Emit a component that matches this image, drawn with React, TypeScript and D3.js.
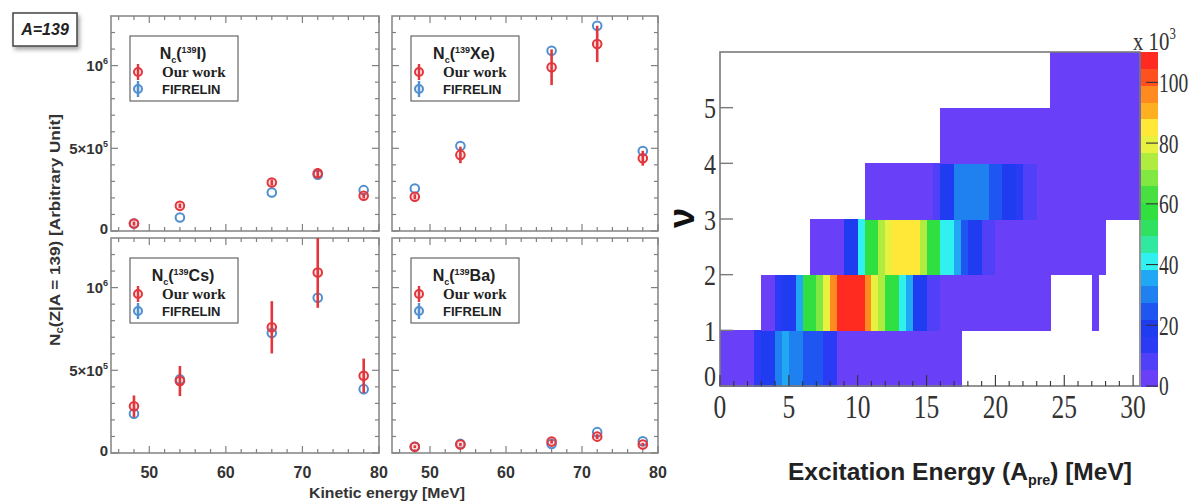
import React from "react";
import * as d3 from "d3";

// kinetic energies of the fragments [MeV]
const KE = [48, 54, 66, 72, 78];

// N_c(139 I)
const I_OUR = [45e3, 152e3, 293e3, 349e3, 213e3];
const I_OUR_ERR = [12e3, 14e3, 18e3, 32e3, 16e3];
const I_FIF = [45e3, 82e3, 233e3, 340e3, 247e3];

// N_c(139 Xe)
const XE_OUR = [207e3, 460e3, 990e3, 1131e3, 440e3];
const XE_OUR_ERR = [15e3, 50e3, 108e3, 110e3, 45e3];
const XE_FIF = [257e3, 514e3, 1090e3, 1241e3, 484e3];

// N_c(139 Cs)
const CS_OUR = [282e3, 435e3, 760e3, 1091e3, 467e3];
const CS_OUR_ERR = [66e3, 91e3, 158e3, 213e3, 104e3];
const CS_FIF = [238e3, 445e3, 726e3, 939e3, 386e3];

// N_c(139 Ba)
const BA_OUR = [38e3, 51e3, 69e3, 99e3, 51e3];
const BA_OUR_ERR = [8e3, 10e3, 12e3, 15e3, 10e3];
const BA_FIF = [38e3, 55e3, 55e3, 126e3, 71e3];

// 2D histogram: neutron multiplicity (rows) vs excitation energy, 0.5 MeV bins, counts x10^3
const BIN = 0.5;
const NU0 = [3,3,3,3,3,14,20,20,30,37,32,30,22,22,22,14,14,3,3,3,3,3,3,3,3,3,3,3,3,3,3,3,3,3,3,0,0,0,0,0,0,0,0,0,0,0,0,0,0,0,0,0,0,0,0,0,0,0,0,0,0];
const NU1 = [0,0,0,0,0,0,5,5,14,20,20,35,57,57,70,80,95,106,106,106,106,95,82,72,58,58,42,34,18,18,9,9,3,3,3,3,3,3,3,3,3,3,3,3,3,3,3,3,0,0,0,0,0,0,2,0,0,0,0,0,0];
const NU2 = [0,0,0,0,0,0,0,0,0,0,0,0,0,3,3,3,3,3,18,20,40,55,58,72,78,85,85,85,85,72,57,57,42,40,36,22,18,18,9,9,3,3,3,3,3,3,3,3,3,3,3,3,3,3,3,3,0,0,0,0,0];
const NU3 = [0,0,0,0,0,0,0,0,0,0,0,0,0,0,0,0,0,0,0,0,0,3,3,3,3,3,3,3,3,3,3,8,18,18,30,31,31,31,31,25,24,18,18,12,8,8,3,3,3,3,3,3,3,3,3,3,3,3,3,3,3];
const NU4 = [0,0,0,0,0,0,0,0,0,0,0,0,0,0,0,0,0,0,0,0,0,0,0,0,0,0,0,0,0,0,0,0,3,3,3,3,3,3,3,3,3,3,3,3,3,3,3,3,3,3,3,3,3,3,3,3,3,3,3,3,3];
const NU5 = [0,0,0,0,0,0,0,0,0,0,0,0,0,0,0,0,0,0,0,0,0,0,0,0,0,0,0,0,0,0,0,0,0,0,0,0,0,0,0,0,0,0,0,0,0,0,0,0,3,3,3,3,3,3,3,3,3,3,3,3,3];
const ROWS = [NU0, NU1, NU2, NU3, NU4, NU5];

const X_TICKS = [0, 5, 10, 15, 20, 25, 30];
const NU_TICKS = [0, 1, 2, 3, 4, 5];
const Z_TICKS = [0, 20, 40, 60, 80, 100];
const Z_MAX = 110;

const PALETTE = [
  "#6a3ff8", "#5040f8", "#2a3af5", "#1f3cf0", "#1f55f0",
  "#1f80f0", "#20a8f5", "#30f0f0", "#30e8a0", "#30e060",
  "#30e040", "#48e040", "#80e840", "#b0ec40", "#e8f040",
  "#ffe838", "#ffb020", "#ff8a20", "#ff5020", "#ff2a20",
];

const SANS = "'Liberation Sans', Arial, sans-serif";
const SERIF = "'Liberation Serif', 'Times New Roman', serif";
const RED = "#e2363c";
const BLUE = "#4f8fd0";

function Panel({ x0, y0, w, h, name, our, err, fif, yLabels, xLabels }) {
  const x = d3.scaleLinear().domain([45, 80]).range([x0, x0 + w]);
  const y = d3.scaleLinear().domain([0, 1.3e6]).range([y0 + h, y0]);
  const clip = "clip-" + name;
  const majorX = [50, 60, 70, 80];
  const minorX = d3.range(46, 81, 2);
  const majorY = [0, 5e5, 1e6];
  const minorY = d3.range(0, 1.25e6, 1e5);
  const tk = "#808080";
  const lx = x0 + 19, ly = y0 + 20;

  return (
    <g>
      <defs>
        <clipPath id={clip}>
          <rect x={x0} y={y0} width={w} height={h} />
        </clipPath>
      </defs>
      <rect x={x0} y={y0} width={w} height={h} fill="white" stroke="#8a8a8a" strokeWidth={1.6} />
      {/* ticks, inside on all sides */}
      {minorX.map((v) => (
        <g key={"mx" + v} stroke={tk} strokeWidth={1.2}>
          <line x1={x(v)} x2={x(v)} y1={y0 + h} y2={y0 + h - (majorX.includes(v) ? 7 : 4)} />
          <line x1={x(v)} x2={x(v)} y1={y0} y2={y0 + (majorX.includes(v) ? 7 : 4)} />
        </g>
      ))}
      {minorY.map((v) => {
        const big = majorY.some((m) => Math.abs(m - v) < 1);
        return (
          <g key={"my" + v} stroke={tk} strokeWidth={1.2}>
            <line x1={x0} x2={x0 + (big ? 7 : 4)} y1={y(v)} y2={y(v)} />
            <line x1={x0 + w} x2={x0 + w - (big ? 7 : 4)} y1={y(v)} y2={y(v)} />
          </g>
        );
      })}
      {yLabels && (
        <g fontFamily={SANS} fontWeight="bold" fontSize={15} fill="#333" textAnchor="end">
          <text x={x0 - 3} y={y(0)} dy="0.2em">0</text>
          <text x={x0 - 3} y={y(5e5)} dy="0.35em">5×10<tspan fontSize={9} dy={-7}>5</tspan></text>
          <text x={x0 - 3} y={y(1e6)} dy="0.35em">10<tspan fontSize={9} dy={-7}>6</tspan></text>
        </g>
      )}
      {xLabels && (
        <g fontFamily={SANS} fontWeight="bold" fontSize={16} fill="#333" textAnchor="middle">
          {majorX.map((v) => (
            <text key={v} x={x(v)} y={y0 + h + 25}>{v}</text>
          ))}
        </g>
      )}
      <g clipPath={`url(#${clip})`}>
        {KE.map((k, i) => (
          <circle key={"f" + i} cx={x(k)} cy={y(fif[i])} r={4.3} fill="none" stroke={BLUE} strokeWidth={2} />
        ))}
        {KE.map((k, i) => (
          <g key={"o" + i}>
            <line x1={x(k)} x2={x(k)} y1={y(our[i] - err[i])} y2={y(our[i] + err[i])} stroke={RED} strokeWidth={2.6} />
            <circle cx={x(k)} cy={y(our[i])} r={4.3} fill="rgba(226,54,60,0.15)" stroke={RED} strokeWidth={2} />
          </g>
        ))}
      </g>
      {/* legend */}
      <rect x={lx} y={ly} width={108} height={65} fill="white" stroke="#666" strokeWidth={1.2} />
      <text x={lx + 53} y={ly + 23} textAnchor="middle" fontFamily={SANS} fontWeight="bold" fontSize={16} fill="#222">
        N<tspan fontSize={9} dy={4}>c</tspan><tspan dy={-4}>(</tspan><tspan fontSize={9} dy={-6}>139</tspan><tspan dy={6}>{name})</tspan>
      </text>
      <line x1={lx + 8} x2={lx + 8} y1={ly + 28} y2={ly + 44} stroke={RED} strokeWidth={2.4} />
      <circle cx={lx + 8} cy={ly + 36} r={4} fill="rgba(226,54,60,0.15)" stroke={RED} strokeWidth={2} />
      <line x1={lx + 8} x2={lx + 8} y1={ly + 45} y2={ly + 61} stroke={BLUE} strokeWidth={2.4} />
      <circle cx={lx + 8} cy={ly + 53} r={4} fill="rgba(79,143,208,0.15)" stroke={BLUE} strokeWidth={2} />
      <text x={lx + 32} y={ly + 41} fontFamily={SERIF} fontWeight="bold" fontSize={15} fill="#222">Our work</text>
      <text x={lx + 32} y={ly + 58} fontFamily={SANS} fontWeight="bold" fontSize={13} fill="#222">FIFRELIN</text>
    </g>
  );
}

function Heatmap() {
  const hx = d3.scaleLinear().domain([0, 30.5]).range([720, 1140]);
  const hy = d3.scaleLinear().domain([0, 6]).range([386, 52]);
  const cz = d3.scaleLinear().domain([0, Z_MAX]).range([386, 52]);
  const step = Z_MAX / PALETTE.length;
  const color = (v) => PALETTE[Math.min(PALETTE.length - 1, Math.floor(v / step))];
  const minor = d3.range(0, 31, 1);

  return (
    <g>
      <rect x={hx(0)} y={hy(6)} width={hx(30.5) - hx(0)} height={hy(0) - hy(6)} fill="white" />
      <g shapeRendering="crispEdges">
        {ROWS.map((row, r) =>
          row.map((v, i) =>
            v > 0 ? (
              <rect
                key={r + "-" + i}
                x={hx(i * BIN)}
                y={hy(r + 1)}
                width={hx((i + 1) * BIN) - hx(i * BIN) + 0.6}
                height={hy(r) - hy(r + 1) + 0.6}
                fill={color(v)}
              />
            ) : null
          )
        )}
      </g>
      <rect x={hx(0)} y={hy(6)} width={hx(30.5) - hx(0)} height={hy(0) - hy(6)} fill="none" stroke="#7a7a7a" strokeWidth={1.6} />
      {minor.map((v) => (
        <line key={"hx" + v} x1={hx(v)} x2={hx(v)} y1={hy(0)} y2={hy(0) - (v % 5 === 0 ? 11 : 5)} stroke="#333" strokeWidth={1.1} />
      ))}
      {NU_TICKS.map((v) => (
        <line key={"hy" + v} x1={hx(0)} x2={hx(0) + 13} y1={hy(v)} y2={hy(v)} stroke="#7a7a7a" strokeWidth={1.4} />
      ))}
      <g fontFamily={SERIF} fontSize={34} fill="#333" textAnchor="middle">
        {X_TICKS.map((v) => (
          <text key={v} transform={`translate(${hx(v)},418) scale(0.75,1)`}>{v}</text>
        ))}
      </g>
      <g fontFamily={SERIF} fontSize={30} fill="#333" textAnchor="end">
        {NU_TICKS.map((v) => (
          <text key={v} transform={`translate(716,${hy(v)}) scale(0.8,1)`} dy={v === 0 ? "0em" : "0.35em"}>{v}</text>
        ))}
      </g>
      {/* colour bar */}
      <g shapeRendering="crispEdges">
        {PALETTE.map((c, i) => (
          <rect key={c} x={1141} y={cz((i + 1) * step)} width={17} height={cz(i * step) - cz((i + 1) * step) + 0.6} fill={c} />
        ))}
      </g>
      {Z_TICKS.map((v) => (
        <g key={v}>
          <line x1={1146} x2={1158} y1={cz(v)} y2={cz(v)} stroke="#333" strokeWidth={1.1} />
          <text transform={`translate(1159,${cz(v)}) scale(0.72,1)`} dy="0.35em" fontFamily={SERIF} fontSize={27} fill="#333">{v}</text>
        </g>
      ))}
      <text transform="translate(1133,50) scale(0.8,1)" fontFamily={SERIF} fontSize={26} fill="#333">
        x 10<tspan fontSize={16} dy={-11}>3</tspan>
      </text>
      <text transform="translate(681,218) rotate(-90)" textAnchor="middle" dy="0.35em" fontFamily={SANS} fontWeight="bold" fontSize={36} fill="#111">ν</text>
      <text x={960} y={480} textAnchor="middle" fontFamily={SANS} fontWeight="bold" fontSize={24} fill="#222" textLength={344} lengthAdjust="spacingAndGlyphs">
        Excitation Energy (A<tspan fontSize={14} dy={5}>pre</tspan><tspan dy={-5}>) [MeV]</tspan>
      </text>
    </g>
  );
}

export default function App() {
  return (
    <svg width={1198} height={502} style={{ position: "absolute", left: 0, top: 0, background: "white" }}>
      <defs>
        <filter id="shadow" x="-20%" y="-20%" width="150%" height="160%">
          <feDropShadow dx={2} dy={3} stdDeviation={2} floodColor="#000" floodOpacity={0.35} />
        </filter>
      </defs>
      <rect width={1198} height={502} fill="white" />
      <Panel x0={111} y0={16} w={268} h={215} name="I" our={I_OUR} err={I_OUR_ERR} fif={I_FIF} yLabels xLabels={false} />
      <Panel x0={392} y0={16} w={266} h={215} name="Xe" our={XE_OUR} err={XE_OUR_ERR} fif={XE_FIF} yLabels={false} xLabels={false} />
      <Panel x0={111} y0={238} w={268} h={215} name="Cs" our={CS_OUR} err={CS_OUR_ERR} fif={CS_FIF} yLabels xLabels />
      <Panel x0={392} y0={238} w={266} h={215} name="Ba" our={BA_OUR} err={BA_OUR_ERR} fif={BA_FIF} yLabels={false} xLabels />
      <text transform="translate(55,230) rotate(-90)" textAnchor="middle" dy="0.35em" fontFamily={SANS} fontWeight="bold" fontSize={15} fill="#333" textLength={232} lengthAdjust="spacingAndGlyphs">
        N<tspan fontSize={10} dy={3}>c</tspan><tspan dy={-3}>(Z|A = 139) [Arbitrary Unit]</tspan>
      </text>
      <text x={387} y={498} textAnchor="middle" fontFamily={SANS} fontWeight="bold" fontSize={15} fill="#333" textLength={156} lengthAdjust="spacingAndGlyphs">
        Kinetic energy [MeV]
      </text>
      <rect x={13} y={13} width={64} height={33} fill="white" stroke="#444" strokeWidth={1.5} filter="url(#shadow)" />
      <text x={45} y={35} textAnchor="middle" fontFamily={SANS} fontWeight="bold" fontStyle="italic" fontSize={16} fill="#222">A=139</text>
      <Heatmap />
    </svg>
  );
}
